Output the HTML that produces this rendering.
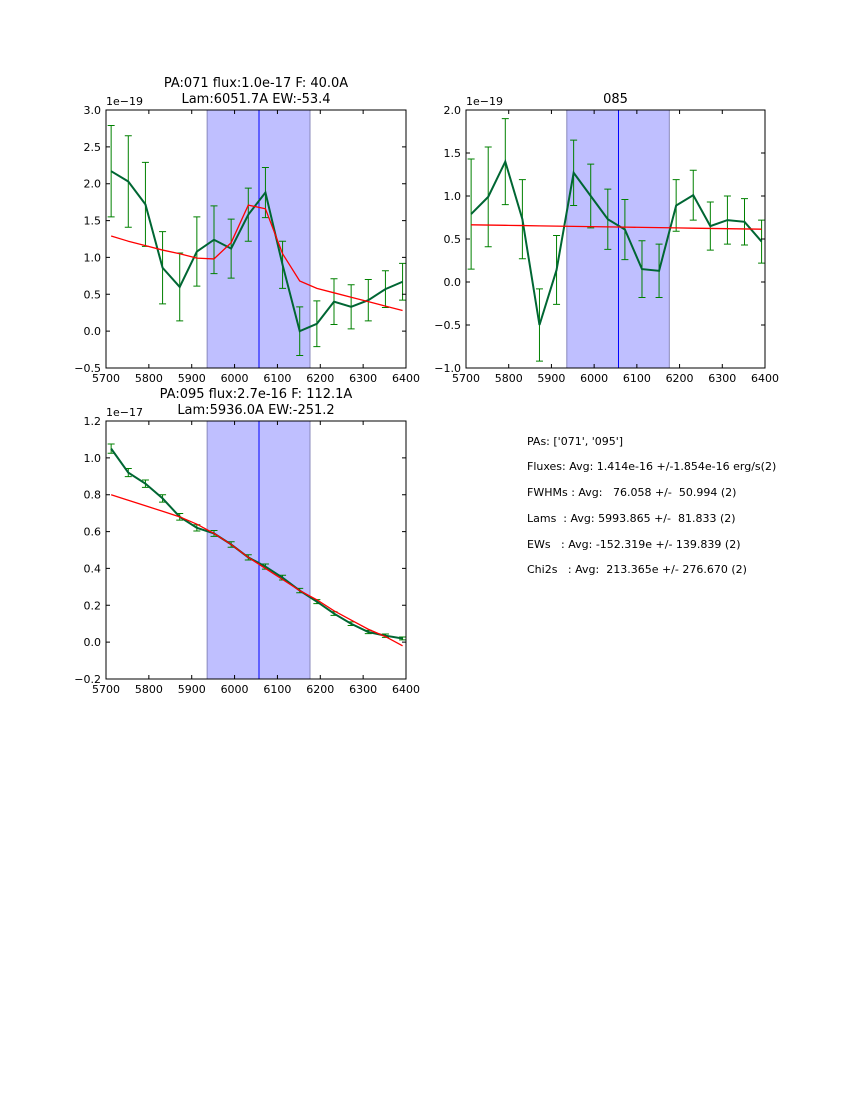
<!DOCTYPE html>
<html><head><meta charset="utf-8"><style>
body{margin:0;background:#fff;}
svg{display:block;font-family:"DejaVu Sans","Liberation Sans",sans-serif;}
</style></head><body>
<svg id="fig" width="850" height="1100" xmlns="http://www.w3.org/2000/svg">
<g id="info" font-size="11" fill="#000">
<text x="527" y="445">PAs: ['071', '095']</text>
<text x="527" y="470">Fluxes: Avg: 1.414e-16 +/-1.854e-16 erg/s(2)</text>
<text x="527" y="496" xml:space="preserve">FWHMs : Avg:   76.058 +/-  50.994 (2)</text>
<text x="527" y="522" xml:space="preserve">Lams  : Avg: 5993.865 +/-  81.833 (2)</text>
<text x="527" y="548" xml:space="preserve">EWs   : Avg: -152.319e +/- 139.839 (2)</text>
<text x="527" y="573" xml:space="preserve">Chi2s   : Avg:  213.365e +/- 276.670 (2)</text>
</g>
</svg>
<script>
const wav=[5712,5752,5792,5832,5872,5912,5952,5992,6032,6072,6112,6152,6192,6232,6272,6312,6352,6392];
const xTicks=[5700,5800,5900,6000,6100,6200,6300,6400];
const p1Flux=[2.17,2.03,1.72,0.86,0.60,1.08,1.24,1.12,1.58,1.88,0.90,0.00,0.10,0.40,0.33,0.42,0.57,0.67];
const p1Err=[0.62,0.62,0.57,0.49,0.46,0.47,0.46,0.40,0.36,0.34,0.32,0.33,0.31,0.31,0.30,0.28,0.25,0.25];
const p1Fit=[1.29,1.22,1.16,1.10,1.05,0.99,0.98,1.20,1.71,1.66,1.05,0.68,0.58,0.52,0.46,0.40,0.34,0.28];
const p1YTicks=[-0.5,0.0,0.5,1.0,1.5,2.0,2.5,3.0];
const p2Flux=[0.79,0.99,1.40,0.73,-0.50,0.14,1.27,1.00,0.73,0.61,0.15,0.13,0.89,1.01,0.65,0.72,0.70,0.47];
const p2Err=[0.64,0.58,0.50,0.46,0.42,0.40,0.38,0.37,0.35,0.35,0.33,0.31,0.30,0.29,0.28,0.28,0.27,0.25];
const p2Fit=[0.665,0.662,0.659,0.656,0.653,0.650,0.647,0.644,0.641,0.638,0.635,0.632,0.629,0.626,0.623,0.620,0.617,0.614];
const p2YTicks=[-1.0,-0.5,0.0,0.5,1.0,1.5,2.0];
const p3Flux=[1.05,0.92,0.86,0.78,0.68,0.62,0.59,0.53,0.46,0.41,0.35,0.28,0.22,0.155,0.10,0.055,0.035,0.02];
const p3Err=[0.025,0.022,0.02,0.02,0.018,0.017,0.016,0.015,0.014,0.014,0.013,0.012,0.011,0.01,0.01,0.009,0.009,0.008];
const p3Fit=[0.80,0.77,0.74,0.71,0.68,0.64,0.59,0.53,0.46,0.40,0.34,0.28,0.23,0.17,0.12,0.07,0.03,-0.02];
const p3YTicks=[-0.2,0.0,0.2,0.4,0.6,0.8,1.0,1.2];
const NS="http://www.w3.org/2000/svg";
const fig=document.getElementById('fig');
function el(tag,attrs,parent,text){const e=document.createElementNS(NS,tag);for(const k in attrs)e.setAttribute(k,attrs[k]);if(text!==undefined)e.textContent=text;parent.appendChild(e);return e;}
function panel(name,L,T,W,H,ymin,ymax,yt,flux,err,fit,titles,exp,shade){
  const g=el('g',{},fig);
  
  
  const xs=v=>L+(v-5700)/700*W, ys=v=>T+(ymax-v)/(ymax-ymin)*H;
  const sh=el('rect',{x:xs(shade[0]),y:T,width:xs(shade[1])-xs(shade[0]),height:H,fill:'#bfbfff',stroke:'#8888bb','stroke-width':1},g);
  
  
  const vl=el('line',{x1:xs(shade[2]),x2:xs(shade[2]),y1:T,y2:T+H,stroke:'#0000ff','stroke-width':1},g);
  
  
  for(let i=0;i<wav.length;i++){const x=xs(wav[i]),y1=ys(flux[i]-err[i]),y2=ys(flux[i]+err[i]);
    const eb=el('path',{d:`M${x},${y1}V${y2}M${x-3.5},${y1}H${x+3.5}M${x-3.5},${y2}H${x+3.5}`,stroke:'#008000','stroke-width':1,fill:'none'},g);
    
    }
  const fl=el('polyline',{points:wav.map((w,i)=>xs(w)+','+ys(flux[i])).join(' '),fill:'none',stroke:'#006633','stroke-width':2},g);
  
  
  const ft=el('polyline',{points:wav.map((w,i)=>xs(w)+','+ys(fit[i])).join(' '),fill:'none',stroke:'#ff0000','stroke-width':1.3},g);
  
  
  el('rect',{x:L,y:T,width:W,height:H,fill:'none',stroke:'#000','stroke-width':1},g);
  xTicks.forEach(v=>{const x=xs(v);el('path',{d:`M${x},${T+H}v-4M${x},${T}v4`,stroke:'#000'},g);
    const t=el('text',{x:x,y:T+H+14,'font-size':11,'text-anchor':'middle'},g,v);
    
    });
  yt.forEach(v=>{const y=ys(v);el('path',{d:`M${L},${y}h4M${L+W},${y}h-4`,stroke:'#000'},g);
    const t=el('text',{x:L-5,y:y+4,'font-size':11,'text-anchor':'end'},g,v.toFixed(1).replace('-','\u2212'));
    
    });
  const e=el('text',{x:L,y:T-5,'font-size':11},g,exp);
  
  
  titles.forEach((s,i)=>{const t=el('text',{x:L+W/2,y:T-(titles.length-i)*16+9,'font-size':13,'text-anchor':'middle'},g,s);
    
    });
}
const sh=[5936,6176,6057];
panel('panel-pa071',106,110,300,258,-0.5,3.0,p1YTicks,p1Flux,p1Err,p1Fit,['PA:071 flux:1.0e-17 F: 40.0A','Lam:6051.7A EW:-53.4'],'1e\u221219',sh);
panel('panel-085',466,110,299,258,-1.0,2.0,p2YTicks,p2Flux,p2Err,p2Fit,['085'],'1e\u221219',sh);
panel('panel-pa095',106,421,300,258,-0.2,1.2,p3YTicks,p3Flux,p3Err,p3Fit,['PA:095 flux:2.7e-16 F: 112.1A','Lam:5936.0A EW:-251.2'],'1e\u221217',sh);
</script>
</body></html>
